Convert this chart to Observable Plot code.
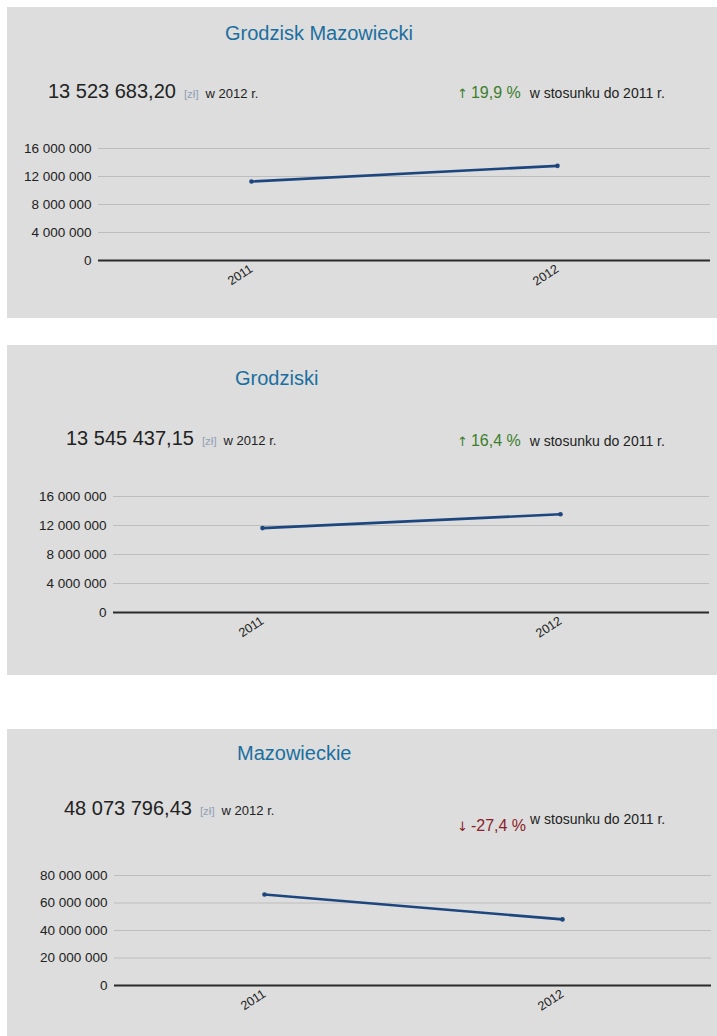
<!DOCTYPE html>
<html>
<head>
<meta charset="utf-8">
<script src="https://cdn.jsdelivr.net/npm/d3@7"></script>
<script src="https://cdn.jsdelivr.net/npm/@observablehq/plot@0.6"></script>
<style>
  html, body { margin: 0; padding: 0; background: #ffffff; }
  body { width: 717px; height: 1036px; position: relative; overflow: hidden;
         font-family: "Liberation Sans", Arial, sans-serif; }
  .panel { position: absolute; left: 7px; width: 710px; background: #dcdddc; }
  .abs { position: absolute; white-space: nowrap; line-height: 1; }
  .title { font-size: 20px; color: #1b6fa0; }
  .value { font-size: 20px; color: #222; }
  .unit { font-size: 11.5px; color: #93a2b8; margin-left: 8px; }
  .year { font-size: 13px; color: #222; margin-left: 7px; }
  .arrow { font-family: "DejaVu Sans", sans-serif; font-size: 13px; }
  .pct { font-size: 16px; margin-left: 3px; }
  .rel { font-size: 14px; color: #222; margin-left: 9px; }
  svg { position: absolute; }
</style>
</head>
<body>
<script>
// ---- data ----
const years = ["2011", "2012"];
const regions = ["Grodzisk Mazowiecki", "Grodziski", "Mazowieckie"];
const values2011 = [11280000, 11640000, 66220000];
const values2012 = [13523683.20, 13545437.15, 48073796.43];
const changes = [19.9, 16.4, -27.4];
const yMax = [16000000, 16000000, 80000000];
const yTicks = [
  [0, 4000000, 8000000, 12000000, 16000000],
  [0, 4000000, 8000000, 12000000, 16000000],
  [0, 20000000, 40000000, 60000000, 80000000]
];

// ---- layout (positions in page pixels) ----
const layout = [
  {top: 7,   height: 311, titleLeft: 225, titleBase: 40,  valueLeft: 48, valueBase: 98,  pctBase: 99,  relRaise: 0, svgTop: 130, plotH: 112, mLeft: 91,  mRight: 7},
  {top: 345, height: 330, titleLeft: 235, titleBase: 385, valueLeft: 66, valueBase: 445, pctBase: 447, relRaise: 0, svgTop: 478, plotH: 116, mLeft: 106, mRight: 8},
  {top: 729, height: 307, titleLeft: 237, titleBase: 760, valueLeft: 64, valueBase: 815, pctBase: 826, relRaise: 7, svgTop: 857, plotH: 110, mLeft: 107, mRight: 6}
];

const loc = d3.formatLocale({decimal: ",", thousands: "\u00a0", grouping: [3], currency: ["", ""], minus: "-"});
const fmtTick = loc.format(",");
const fmtValue = loc.format(",.2f");
const fmtPct = loc.format(".1f");

function el(tag, cls, text) {
  const e = document.createElement(tag);
  if (cls) e.className = cls;
  if (text != null) e.textContent = text;
  return e;
}

regions.forEach((name, i) => {
  const L = layout[i];
  const panel = el("div", "panel");
  panel.style.top = L.top + "px";
  panel.style.height = L.height + "px";
  document.body.appendChild(panel);

  // title
  const t = el("div", "abs title", name);
  t.style.left = L.titleLeft + "px";
  t.style.top = (L.titleBase - 0.8465 * 20) + "px";
  document.body.appendChild(t);

  // value line
  const v = el("div", "abs");
  v.style.left = L.valueLeft + "px";
  v.style.top = (L.valueBase - 0.8465 * 20) + "px";
  v.appendChild(el("span", "value", fmtValue(values2012[i])));
  v.appendChild(el("span", "unit", "[zł]"));
  v.appendChild(el("span", "year", "w " + years[1] + " r."));
  document.body.appendChild(v);

  // change line
  const up = changes[i] >= 0;
  const color = up ? "#3d7d2e" : "#8b1c2a";
  const c = el("div", "abs");
  c.style.left = "457px";
  c.style.top = (L.pctBase - 0.8465 * 16) + "px";
  const a = el("span", "arrow", up ? "↑" : "↓"); a.style.color = color;
  const p = el("span", "pct", fmtPct(changes[i]) + " %"); p.style.color = color;
  const r = el("span", "rel", "w stosunku do " + years[0] + " r.");
  if (L.relRaise) { r.style.verticalAlign = L.relRaise + "px"; r.style.marginLeft = "4px"; }
  c.appendChild(a); c.appendChild(p); c.appendChild(r);
  document.body.appendChild(c);

  const data = years.map((y, j) => ({year: y, value: j === 0 ? values2011[i] : values2012[i]}));

  const chart = Plot.plot({
    width: 710,
    height: 18 + L.plotH + 40,
    marginTop: 18,
    marginBottom: 40,
    marginLeft: L.mLeft,
    marginRight: L.mRight,
    x: {type: "point", domain: years, padding: 0.5},
    y: {domain: [0, yMax[i]]},
    style: {background: "transparent", fontFamily: "'Liberation Sans', Arial, sans-serif", fontSize: "13.5px", color: "#222", overflow: "visible"},
    marks: [
      Plot.gridY(yTicks[i].filter(d => d > 0), {stroke: "#bcbdbc", strokeOpacity: 1, strokeWidth: 1}),
      Plot.ruleY([0], {stroke: "#2b2b2b", strokeWidth: 2}),
      Plot.axisY(yTicks[i], {tickSize: 0, tickPadding: 7, tickFormat: fmtTick, fontSize: 13.5, fill: "#222", label: null}),
      Plot.axisX(years, {tickSize: 0, tickPadding: 7, tickRotate: -33, fontSize: 12.5, fill: "#222", label: null}),
      Plot.line(data, {x: "year", y: "value", stroke: "#1d467e", strokeWidth: 2.6}),
      Plot.dot(data, {x: "year", y: "value", r: 2.3, fill: "#1d467e"})
    ]
  });
  chart.style.left = "7px";
  chart.style.top = L.svgTop + "px";
  document.body.appendChild(chart);
});
</script>
</body>
</html>
